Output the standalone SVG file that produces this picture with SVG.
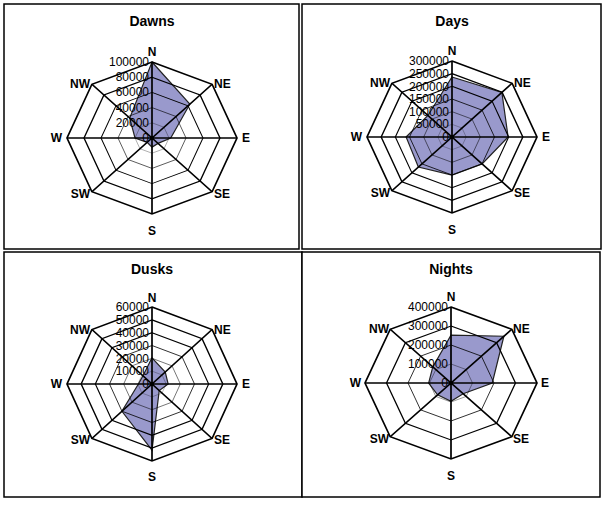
<svg xmlns="http://www.w3.org/2000/svg" xmlns:xlink="http://www.w3.org/1999/xlink" width="605" height="505" viewBox="0 0 605 505">
<style>
text{font-family:"Liberation Sans",Arial,sans-serif;fill:#000}
.t{font-size:14px;font-weight:bold;text-anchor:middle}
.d{font-size:12px;font-weight:bold}
.v{font-size:12px;text-anchor:end}
.g{fill:none;stroke:#000;stroke-width:2;vector-effect:non-scaling-stroke}
.data{fill:#9999cc;stroke:#222;stroke-width:1.2;vector-effect:non-scaling-stroke}
.frame{fill:#fff;stroke:#000;stroke-width:1.5}
</style>
<defs>
<polygon id="oct" points="0,-100 70.7,-70.7 100,0 70.7,70.7 0,100 -70.7,70.7 -100,0 -70.7,-70.7"/>
<path id="ax" d="M0,-100V100M-100,0H100M-70.7,-70.7L70.7,70.7M70.7,-70.7L-70.7,70.7"/>
<g id="lbl">
<text class="d" x="0" y="-82" text-anchor="middle">N</text>
<text class="d" x="62" y="-50">NE</text>
<text class="d" x="90" y="4">E</text>
<text class="d" x="62" y="60">SE</text>
<text class="d" x="0" y="97" text-anchor="middle">S</text>
<text class="d" x="-62" y="60" text-anchor="end">SW</text>
<text class="d" x="-90" y="4" text-anchor="end">W</text>
<text class="d" x="-62" y="-50" text-anchor="end">NW</text>
</g>
</defs>
<rect class="frame" x="4" y="4" width="295" height="245"/>
<rect class="frame" x="302" y="4" width="299" height="245"/>
<rect class="frame" x="4" y="252" width="298" height="245"/>
<rect class="frame" x="302" y="252" width="298" height="245"/>

<g id="dawns" transform="translate(152,138)">
<text class="t" x="0" y="-112">Dawns</text>
<g transform="scale(0.85,0.76)">
<polygon class="data" points="0,-100 44.5,-44.5 22,0 7.1,7.1 0,12 -5.7,5.7 -20,0 -26.2,-26.2"/>
<use href="#oct" class="g"/><use href="#oct" class="g" transform="scale(0.8)"/><use href="#oct" class="g" transform="scale(0.6)"/><use href="#oct" class="g" transform="scale(0.4)"/><use href="#oct" class="g" transform="scale(0.2)"/>
<use href="#ax" class="g"/>
</g>
<use href="#lbl"/>
<text class="v" x="-3" y="-72">100000</text><text class="v" x="-3" y="-57">80000</text><text class="v" x="-3" y="-42">60000</text><text class="v" x="-3" y="-26">40000</text><text class="v" x="-3" y="-11">20000</text><text class="v" x="-3" y="4">0</text>
</g>

<g id="days" transform="translate(452,137)">
<text class="t" x="0" y="-111">Days</text>
<g transform="scale(0.85,0.76)">
<polygon class="data" points="0,-79 58.7,-58.7 66,0 35.4,35.4 0,50 -39.6,39.6 -54,0 -28.3,-28.3"/>
<use href="#oct" class="g"/><use href="#oct" class="g" transform="scale(0.8333)"/><use href="#oct" class="g" transform="scale(0.6667)"/><use href="#oct" class="g" transform="scale(0.5)"/><use href="#oct" class="g" transform="scale(0.3333)"/><use href="#oct" class="g" transform="scale(0.1667)"/>
<use href="#ax" class="g"/>
</g>
<use href="#lbl"/>
<text class="v" x="-3" y="-72">300000</text><text class="v" x="-3" y="-59">250000</text><text class="v" x="-3" y="-46">200000</text><text class="v" x="-3" y="-34">150000</text><text class="v" x="-3" y="-21">100000</text><text class="v" x="-3" y="-9">50000</text><text class="v" x="-3" y="4">0</text>
</g>

<g id="dusks" transform="translate(152,384)">
<text class="t" x="0" y="-110">Dusks</text>
<g transform="scale(0.85,0.77)">
<polygon class="data" points="0,-34 15.6,-15.6 19,0 8.5,8.5 0,86 -35.4,35.4 -16,0 -10.6,-10.6"/>
<use href="#oct" class="g"/><use href="#oct" class="g" transform="scale(0.8333)"/><use href="#oct" class="g" transform="scale(0.6667)"/><use href="#oct" class="g" transform="scale(0.5)"/><use href="#oct" class="g" transform="scale(0.3333)"/><use href="#oct" class="g" transform="scale(0.1667)"/>
<use href="#ax" class="g"/>
</g>
<use href="#lbl"/>
<text class="v" x="-3" y="-73">60000</text><text class="v" x="-3" y="-60">50000</text><text class="v" x="-3" y="-47">40000</text><text class="v" x="-3" y="-34">30000</text><text class="v" x="-3" y="-21">20000</text><text class="v" x="-3" y="-9">10000</text><text class="v" x="-3" y="4">0</text>
</g>

<g id="nights" transform="translate(451,383)">
<text class="t" x="0" y="-109">Nights</text>
<g transform="scale(0.86,0.76)">
<polygon class="data" points="0,-63 61.5,-61.5 48,0 14.1,14.1 0,24 -15.6,15.6 -26,0 -21.2,-21.2"/>
<use href="#oct" class="g"/><use href="#oct" class="g" transform="scale(0.75)"/><use href="#oct" class="g" transform="scale(0.5)"/><use href="#oct" class="g" transform="scale(0.25)"/>
<use href="#ax" class="g"/>
</g>
<use href="#lbl"/>
<text class="v" x="-3" y="-72">400000</text><text class="v" x="-3" y="-53">300000</text><text class="v" x="-3" y="-34">200000</text><text class="v" x="-3" y="-15">100000</text><text class="v" x="-3" y="4">0</text>
</g>
</svg>
